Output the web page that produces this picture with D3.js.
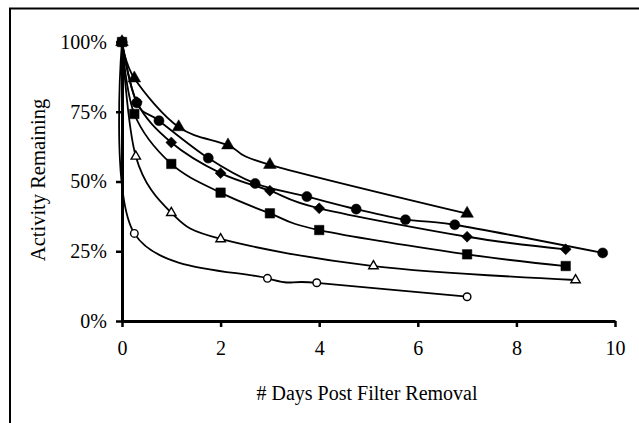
<!DOCTYPE html>
<html lang="en">
<head>
    <meta charset="UTF-8">
    <title>Activity Remaining</title>
    <script src="https://d3js.org/d3.v7.min.js"></script>
    <style>
        body { margin: 0; background: #fff; }
        text { font-family: "Liberation Serif", "Times New Roman", serif; fill: #000; }
    </style>
</head>
<body>
<script>
// tick values
const xTicks = [0, 2, 4, 6, 8, 10];
const yTicks = [0, 25, 50, 75, 100];

// each series: days after filter removal, % activity remaining
const triDays = [0, 0.25, 1.15, 2.15, 3, 7];
const triActivity = [100, 87, 69.5, 63, 56, 38.5];

const circleDays = [0, 0.3, 0.75, 1.75, 2.7, 3.75, 4.75, 5.75, 6.75, 9.75];
const circleActivity = [100, 78.2, 71.8, 58.4, 49.3, 44.6, 40.1, 36.3, 34.5, 24.4];

const diamondDays = [0, 0.3, 1, 2, 3, 4, 7, 9];
const diamondActivity = [100, 78.5, 64, 53, 46.7, 40.4, 30.2, 25.7];

const squareDays = [0, 0.25, 1, 2, 3, 4, 7, 9];
const squareActivity = [100, 74.2, 56.3, 46, 38.6, 32.6, 23.9, 19.7];

const openTriDays = [0, 0.28, 1, 2, 5.1, 9.2];
const openTriActivity = [100, 59, 38.8, 29.4, 19.7, 14.7];

const openCircleDays = [0, 0.25, 2.95, 3.95, 7];
const openCircleActivity = [100, 31.4, 15.3, 13.7, 8.7];

// diamond drawn as a square turned 45 degrees
const squareDiamond = {
    draw(ctx, size) {
        const r = Math.sqrt(size / 2);
        ctx.moveTo(0, -r);
        ctx.lineTo(r, 0);
        ctx.lineTo(0, r);
        ctx.lineTo(-r, 0);
        ctx.closePath();
    }
};

// marker drawing order: filled square last so it sits on top at 100%
const series = [
    {days: openCircleDays, vals: openCircleActivity, sym: d3.symbolCircle, size: 45, fill: "#fff"},
    {days: openTriDays, vals: openTriActivity, sym: d3.symbolTriangle, size: 38, fill: "#fff"},
    {days: triDays, vals: triActivity, sym: d3.symbolTriangle, size: 70, fill: "#000"},
    {days: circleDays, vals: circleActivity, sym: d3.symbolCircle, size: 80, fill: "#000"},
    {days: diamondDays, vals: diamondActivity, sym: squareDiamond, size: 60, fill: "#000"},
    {days: squareDays, vals: squareActivity, sym: d3.symbolSquare, size: 90, fill: "#000"}
];

const W = 639, H = 423;
const svg = d3.select("body").append("svg")
    .attr("width", W)
    .attr("height", H);

// outer frame
svg.append("rect")
    .attr("x", 10).attr("y", 8.5)
    .attr("width", 660).attr("height", 440)
    .attr("fill", "none").attr("stroke", "#000").attr("stroke-width", 2);

const x = d3.scaleLinear().domain([0, 10]).range([122, 615]);
const y = d3.scaleLinear().domain([0, 100]).range([321, 42]);

// axes
const xAxis = svg.append("g")
    .attr("transform", `translate(0,${y(0)})`)
    .call(d3.axisBottom(x).tickValues(xTicks).tickSize(6).tickPadding(14).tickSizeOuter(0));
const yAxis = svg.append("g")
    .attr("transform", `translate(${x(0)},0)`)
    .call(d3.axisLeft(y).tickValues(yTicks).tickSize(6).tickPadding(9).tickSizeOuter(0)
        .tickFormat(d => d + "%"));

[xAxis, yAxis].forEach(g => {
    g.select(".domain").attr("stroke", "#000").attr("stroke-width", 3);
    g.selectAll(".tick line").attr("stroke", "#000").attr("stroke-width", 2.5);
    g.selectAll(".tick text")
        .style("font-family", "'Liberation Serif', 'Times New Roman', serif")
        .style("font-size", "20px")
        .attr("fill", "#000");
});

// curves
const line = d3.line()
    .x(d => x(d[0]))
    .y(d => y(d[1]))
    .curve(d3.curveCardinal.tension(0));

series.forEach(s => {
    const pts = s.days.map((d, i) => [d, s.vals[i]]);
    svg.append("path")
        .datum(pts)
        .attr("d", line)
        .attr("fill", "none")
        .attr("stroke", "#000")
        .attr("stroke-width", 1.8);
});

// markers
series.forEach(s => {
    const pts = s.days.map((d, i) => [d, s.vals[i]]);
    svg.append("g").selectAll("path")
        .data(pts)
        .enter().append("path")
        .attr("transform", d => `translate(${x(d[0])},${y(d[1])})`)
        .attr("d", d3.symbol().type(s.sym).size(s.size))
        .attr("fill", s.fill)
        .attr("stroke", "#000")
        .attr("stroke-width", s.fill === "#fff" ? 1.4 : 0.5);
});

// axis titles
svg.append("text")
    .attr("x", 367)
    .attr("y", 400)
    .attr("text-anchor", "middle")
    .style("font-size", "20px")
    .text("# Days Post Filter Removal");

svg.append("text")
    .attr("transform", "translate(45,180) rotate(-90)")
    .attr("text-anchor", "middle")
    .style("font-size", "20.5px")
    .text("Activity Remaining");
</script>
</body>
</html>
